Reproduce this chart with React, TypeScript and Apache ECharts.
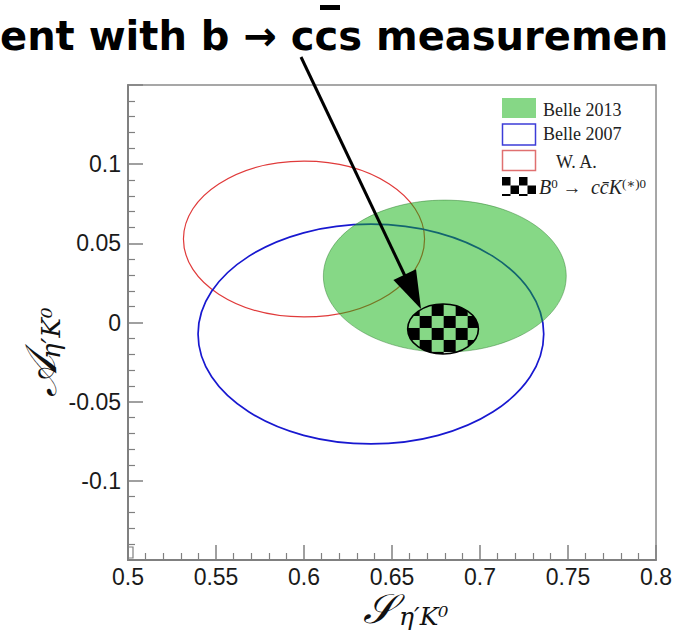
import React, { useEffect, useRef } from "react";
import * as echarts from "echarts";

// ---- data ----
const seriesNames = ["W. A.", "Belle 2007", "Belle 2013", "B0 → ccK(*)0"];
const centerS = [0.6, 0.638, 0.68, 0.679];
const centerA = [0.0527, -0.0073, 0.0293, -0.0041];
const halfWidthS = [0.0685, 0.0982, 0.069, 0.0201];
const halfHeightA = [0.0492, 0.0694, 0.048, 0.0158];

const sMin = 0.5;
const sMax = 0.8;
const sStep = 0.05;
const aMin = -0.15;
const aMax = 0.15;
const aStep = 0.05;
const sTickLabels = ["0.5", "0.55", "0.6", "0.65", "0.7", "0.75", "0.8"];
const aTickLabels = ["-0.1", "-0.05", "0", "0.05", "0.1"];

const legendLabels = ["Belle 2013", "Belle 2007", "W. A."];
const titleText = "ent with b → ccs measuremen";

function makeChecker(size: number) {
  const c = document.createElement("canvas");
  c.width = size * 2;
  c.height = size * 2;
  const ctx = c.getContext("2d")!;
  ctx.fillStyle = "#000";
  ctx.fillRect(0, 0, size, size);
  ctx.fillRect(size, size, size, size);
  return {
    image: c.toDataURL(),
    repeat: "repeat",
    imageWidth: size * 2,
    imageHeight: size * 2,
  } as any;
}

export default function App() {
  const ref = useRef<HTMLDivElement>(null);
  useEffect(() => {
    if (!ref.current) return;
    const chart = echarts.init(ref.current, null, { renderer: "svg" });
    const checkerBig = makeChecker(12);
    const checkerSmall = makeChecker(8.5);

    const styles: any[] = [
      { fill: "none", stroke: "#e03a3a", lineWidth: 1.2 },
      { fill: "none", stroke: "#1818d0", lineWidth: 1.7 },
      { fill: "rgba(14,178,14,0.5)", stroke: "rgba(40,120,40,0.45)", lineWidth: 1 },
      { fill: checkerBig, stroke: "#000", lineWidth: 1.6 },
    ];

    const series = seriesNames.map((name, i) => ({
      type: "custom",
      name,
      data: [[centerS[i], centerA[i], halfWidthS[i], halfHeightA[i]]],
      encode: { x: 0, y: 1 },
      renderItem: (_p: any, api: any) => {
        const c = api.coord([api.value(0), api.value(1)]);
        const e = api.coord([api.value(0) + api.value(2), api.value(1) + api.value(3)]);
        const rx = Math.abs(e[0] - c[0]);
        const ry = Math.abs(e[1] - c[1]);
        return {
          type: "ellipse",
          x: c[0] - rx,
          y: c[1] - ry,
          shape: { cx: rx, cy: ry, rx, ry },
          style: styles[i],
        };
      },
      z: 2 + i,
    }));

    const axisColor = "#808080";
    const labelFont = "'Liberation Sans', Arial, sans-serif";
    const serif = "'Liberation Serif', 'DejaVu Serif', serif";
    const fmt = (list: string[]) => (v: number) => {
      const s = String(Math.round(v * 1000) / 1000);
      return list.indexOf(s) >= 0 ? s : "";
    };

    const legendGraphics: any[] = [
      { type: "rect", z: 100, shape: { x: 502, y: 98, width: 34, height: 20 }, style: { fill: "#86d786" } },
      { type: "rect", z: 100, shape: { x: 502.5, y: 124, width: 33, height: 21 }, style: { fill: "#fff", stroke: "#3c3cd8", lineWidth: 1.5 } },
      { type: "rect", z: 100, shape: { x: 502.5, y: 150.5, width: 33, height: 20 }, style: { fill: "#fff", stroke: "#e07070", lineWidth: 1.5 } },
      { type: "rect", z: 100, x: 502, y: 177, shape: { x: 0, y: 0, width: 34, height: 19 }, style: { fill: checkerSmall } },
      { type: "text", z: 100, x: 543, y: 110, style: { text: legendLabels[0], font: `18px ${serif}`, fill: "#222", verticalAlign: "middle", align: "left" } },
      { type: "text", z: 100, x: 543, y: 134, style: { text: legendLabels[1], font: `18px ${serif}`, fill: "#222", verticalAlign: "middle", align: "left" } },
      { type: "text", z: 100, x: 556, y: 162, style: { text: legendLabels[2], font: `18px ${serif}`, fill: "#222", verticalAlign: "middle", align: "left" } },
      {
        type: "text", z: 100, x: 539, y: 187,
        style: {
          text: "{i|B}{s|0}{n| →  }{i|cc̄K}{s|(∗)0}",
          verticalAlign: "middle", align: "left", fill: "#222",
          rich: {
            i: { fontFamily: serif, fontStyle: "italic", fontSize: 20, fill: "#222" },
            n: { fontFamily: serif, fontSize: 19, fill: "#222" },
            s: { fontFamily: serif, fontSize: 13, fill: "#222", verticalAlign: "top" },
          },
        },
      },
    ];

    const otherGraphics: any[] = [
      // cropped slide title
      { type: "text", z: 100, x: 0, y: 36, style: { text: titleText, font: "bold 40px 'DejaVu Sans', sans-serif", fill: "#000", verticalAlign: "middle", align: "left" } },
      { type: "rect", z: 100, shape: { x: 320, y: 5, width: 20, height: 5 }, style: { fill: "#000" } },
      // arrow
      { type: "line", z: 100, shape: { x1: 301, y1: 57, x2: 405, y2: 276 }, style: { stroke: "#000", lineWidth: 3 } },
      { type: "polygon", z: 100, shape: { points: [[421, 309], [393.4, 280.1], [416, 269.3]] }, style: { fill: "#000" } },
      // small ROOT artifact box at the origin
      { type: "rect", z: 100, shape: { x: 128, y: 547, width: 5, height: 11 }, style: { fill: "none", stroke: axisColor, lineWidth: 1.2 } },
      // x axis title
      { type: "text", z: 100, x: 363, y: 609, style: { text: "𝒮", font: `italic 41px 'DejaVu Serif', 'DejaVu Sans', serif`, fill: "#111", verticalAlign: "middle", align: "left" } },
      { type: "text", z: 100, x: 399, y: 616, style: { text: "η′K⁰", font: `italic 25px 'DejaVu Serif', serif`, fill: "#111", verticalAlign: "middle", align: "left" } },
      // y axis title (rotated)
      {
        type: "group", z: 100, x: 40, y: 397, rotation: Math.PI / 2,
        children: [
          { type: "text", z: 100, x: 0, y: 0, style: { text: "𝒜", font: `italic 44px 'DejaVu Serif', 'DejaVu Sans', serif`, fill: "#111", verticalAlign: "middle", align: "left" } },
          { type: "text", z: 100, x: 38, y: 11, style: { text: "η′K⁰", font: `italic 26px 'DejaVu Serif', serif`, fill: "#111", verticalAlign: "middle", align: "left" } },
        ],
      },
    ];

    chart.setOption({
      animation: false,
      grid: { left: 128, right: 17, top: 85, bottom: 72, show: true, borderColor: "#8a8a8a", borderWidth: 1.5, backgroundColor: "transparent" },
      xAxis: {
        type: "value", min: sMin, max: sMax, interval: sStep,
        axisLine: { show: true, onZero: false, lineStyle: { color: axisColor, width: 2 } },
        axisTick: { show: true, inside: true, length: 15, lineStyle: { color: axisColor, width: 1.5 } },
        minorTick: { show: true, splitNumber: 5, length: 7, lineStyle: { color: axisColor, width: 1.2 } },
        splitLine: { show: false },
        axisLabel: { fontSize: 23, fontFamily: labelFont, color: "#1a1a1a", margin: 5, formatter: fmt(sTickLabels) },
      },
      yAxis: {
        type: "value", min: aMin, max: aMax, interval: aStep,
        axisLine: { show: true, onZero: false, lineStyle: { color: axisColor, width: 2 } },
        axisTick: { show: true, inside: true, length: 15, lineStyle: { color: axisColor, width: 1.5 } },
        minorTick: { show: true, splitNumber: 5, length: 7, lineStyle: { color: axisColor, width: 1.2 } },
        splitLine: { show: false },
        axisLabel: { fontSize: 23, fontFamily: labelFont, color: "#1a1a1a", margin: 7, formatter: fmt(aTickLabels) },
      },
      series,
      graphic: [...legendGraphics, ...otherGraphics],
    });
    return () => chart.dispose();
  }, []);
  return (
    <div
      ref={ref}
      style={{ position: "fixed", left: 0, top: 0, width: 675, height: 632, background: "#fff" }}
    />
  );
}
